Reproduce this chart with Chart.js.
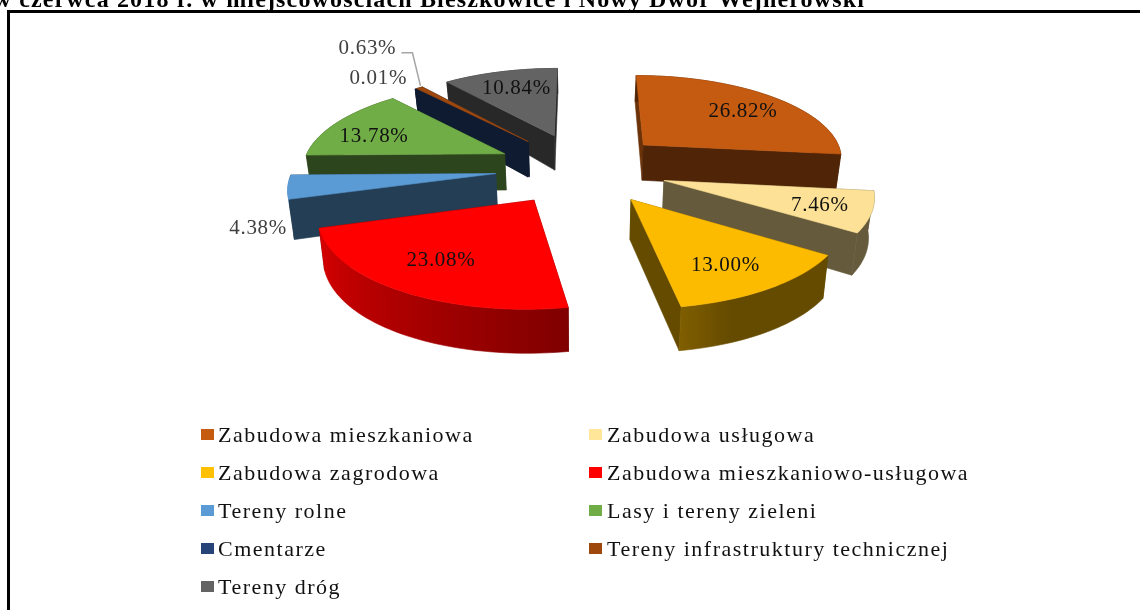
<!DOCTYPE html>
<html>
<head>
<meta charset="utf-8">
<style>html,body{margin:0;padding:0;background:#fff;overflow:hidden}canvas{display:block}</style>
<script src="https://cdn.jsdelivr.net/npm/chart.js@4"></script>
</head>
<body>
<canvas id="c" width="1140" height="610"></canvas>
<script>
const categories = ['Zabudowa mieszkaniowa','Zabudowa usługowa','Zabudowa zagrodowa','Zabudowa mieszkaniowo-usługowa','Tereny rolne','Lasy i tereny zieleni','Cmentarze','Tereny infrastruktury technicznej','Tereny dróg'];
const shares = [26.82,7.46,13.00,23.08,4.38,13.78,0.01,0.63,10.84];
const topColors = ['#C55A11','#FCE196','#FDBB00','#FF0000','#5B9BD5','#70AD47','#264478','#9E480E','#636363'];
const legendColors = ['#C55A11','#FFE699','#FFC000','#FF0000','#5B9BD5','#70AD47','#264478','#9E480E','#636363'];
const wallBase = ['#C55A11','#FCE196','#FDBB00','#FF0000','#5B9BD5','#70AD47','#264478','#264478','#636363'];
const drawOrder = [8,0,6,7,5,4,1,2,3];
const labelFraction = [0.75,0.75,0.7,0.72,1.2,0.8,1,1,0.75];
const labelNudge = [[1,3],[2,2],[1,6],[0,-2],[13,39],[5,8],[-37,-10],[-52,-39],[4,2]];
const titleText = 'w czerwca 2018 r. w miejscowościach Bieszkowice i Nowy Dwór Wejherowski';

const VIEW = {cx:581.5, cy:168, k:0.423, D:1474, wide:1.012};
const scaleAt = v => VIEW.D/(VIEW.D - v);
const depthAt = s => 44 - 132*Math.pow(1.22 - Math.min(s,1.22),2);
function project(u,v,low){
  const s = scaleAt(v);
  return {
    x: VIEW.cx + VIEW.wide*u*s*(low?0.98:1),
    y: VIEW.cy + VIEW.k*v*s + (low?depthAt(s):0)
  };
}
function rgb(hex){return [1,3,5].map(i=>parseInt(hex.substr(i,2),16));}
function shade(hex,f){return 'rgb('+rgb(hex).map(c=>Math.round(c*f)).join(',')+')';}
function poly(ctx,pts,fill){
  ctx.beginPath();
  pts.forEach((p,i)=>i?ctx.lineTo(p.x,p.y):ctx.moveTo(p.x,p.y));
  ctx.closePath();
  ctx.fillStyle=fill; ctx.strokeStyle=fill; ctx.lineWidth=0.6;
  ctx.fill(); ctx.stroke();
}
// brightness of the rim wall, by clockwise angle from the top (degrees)
function rimLight(deg){
  if(deg<158||deg>255) return 0.4;
  if(deg<170) return 0.4+0.1*(deg-158)/12;
  return 0.5+0.35*(deg-170)/83;
}
function geometry(arc){
  const p = arc.getProps(['startAngle','endAngle','outerRadius'],true);
  const mid=(p.startAngle+p.endAngle)/2, off=arc.options.offset||0;
  const ax=off*Math.cos(mid), ay=off*Math.sin(mid);
  const n=Math.max(2,Math.ceil((p.endAngle-p.startAngle)/0.03));
  const rim=[];
  for(let i=0;i<=n;i++){
    const a=p.startAngle+(p.endAngle-p.startAngle)*i/n;
    rim.push({u:ax+p.outerRadius*Math.cos(a),v:ay+p.outerRadius*Math.sin(a),a});
  }
  return {ax,ay,rim,mid,r:p.outerRadius};
}
const pie3d = {
  id:'pie3d',
  beforeDatasetDraw(chart,args){
    const ctx=chart.ctx, arcs=chart.getDatasetMeta(args.index).data;
    ctx.save();
    drawOrder.forEach(i=>{
      const g=geometry(arcs[i]), wall=wallBase[i];
      const A=project(g.ax,g.ay,false), Al=project(g.ax,g.ay,true);
      const f=g.rim[0], l=g.rim[g.rim.length-1];
      poly(ctx,[A,project(f.u,f.v,false),project(f.u,f.v,true),Al],shade(wall,i===0?0.55:0.4));
      poly(ctx,[A,project(l.u,l.v,false),project(l.u,l.v,true),Al],shade(wall,0.4));
      const up=g.rim.map(q=>project(q.u,q.v,false));
      const down=g.rim.map(q=>project(q.u,q.v,true)).reverse();
      const x0=up[0].x, x1=up[up.length-1].x;
      let fill=shade(wall,0.4);
      if(Math.abs(x1-x0)>1){
        const grad=ctx.createLinearGradient(x0,0,x1,0);
        up.forEach((p,j)=>{
          const deg=((g.rim[j].a+Math.PI/2)*180/Math.PI+360)%360;
          const t=Math.min(1,Math.max(0,(p.x-x0)/(x1-x0)));
          grad.addColorStop(t,shade(wall,rimLight(deg)));
        });
        fill=grad;
      }
      poly(ctx,up.concat(down),fill);
      poly(ctx,[A].concat(up),topColors[i]);
    });
    ctx.restore();
    return false;
  },
  afterDatasetsDraw(chart){
    const ctx=chart.ctx, arcs=chart.getDatasetMeta(0).data;
    ctx.save();
    // percentage labels
    ctx.font='21px "Liberation Serif"'; ctx.letterSpacing='0.7px';
    ctx.textAlign='center'; ctx.textBaseline='middle';
    shares.forEach((val,i)=>{
      const g=geometry(arcs[i]), r=g.r*labelFraction[i];
      const p=project(g.ax+r*Math.cos(g.mid),g.ay+r*Math.sin(g.mid),false);
      const x=p.x+labelNudge[i][0], y=p.y+labelNudge[i][1];
      ctx.fillStyle=labelFraction[i]>=1?'#404040':'#111111';
      ctx.fillText(val.toFixed(2)+'%',x,y);
      if(i===7){
        ctx.strokeStyle='#A6A6A6'; ctx.lineWidth=1.5;
        ctx.beginPath();
        ctx.moveTo(x+34,y+4); ctx.lineTo(x+45,y+4); ctx.lineTo(p.x+1,p.y-2);
        ctx.stroke();
      }
    });
    // legend
    ctx.textAlign='left'; ctx.textBaseline='alphabetic';
    ctx.font='22px "Liberation Serif"'; ctx.letterSpacing='1.5px';
    categories.forEach((name,i)=>{
      const col=i%2, row=Math.floor(i/2);
      const x=col?589:201, y=429+row*38;
      ctx.fillStyle=legendColors[i];
      ctx.fillRect(x,y,13,11);
      ctx.fillStyle='#111111';
      ctx.fillText(name,col?607:218,y+13);
    });
    // frame and cut-off caption
    ctx.fillStyle='#000';
    ctx.fillRect(7,10,3,600);
    ctx.fillRect(7,10,1133,3);
    ctx.font='bold 24px "Liberation Serif"'; ctx.letterSpacing='1.15px';
    ctx.textAlign='right';
    ctx.fillText(titleText,865,7);
    ctx.restore();
  }
};
new Chart(document.getElementById('c'),{
  type:'pie',
  data:{labels:categories,datasets:[{data:shares,backgroundColor:topColors,offset:85,radius:200,borderWidth:0}]},
  options:{
    responsive:false,animation:false,
    plugins:{legend:{display:false},tooltip:{enabled:false},title:{display:false}}
  },
  plugins:[pie3d]
});
</script>
</body>
</html>
